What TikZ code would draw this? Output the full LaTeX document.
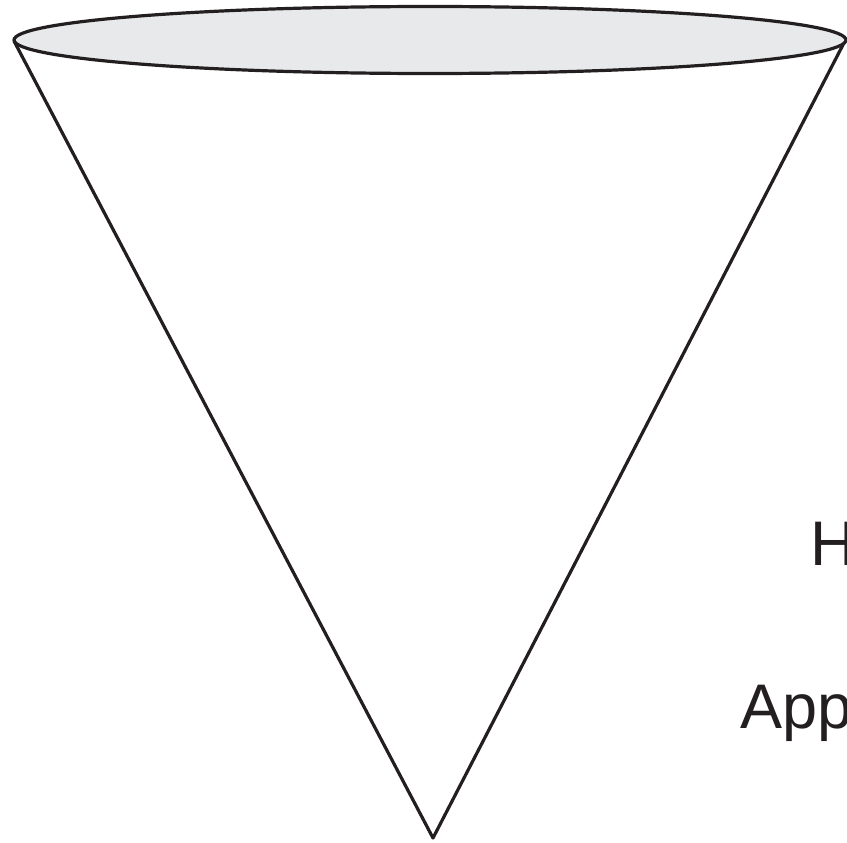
\documentclass[tikz,border=0pt]{standalone}
\usepackage{fontspec}
\setmainfont{Liberation Sans}
\definecolor{topfill}{HTML}{E8E9EA}
\definecolor{ink}{HTML}{231F20}
\begin{document}
\begin{tikzpicture}[x=1pt,y=-1pt,
  outline/.style={draw=ink, line width=3.2pt, line join=round},
  lbl/.style={anchor=base west, inner sep=0pt, font=\fontsize{63}{70}\selectfont, text=ink}]
\useasboundingbox (0,0) rectangle (847,843);
\clip (0,0) rectangle (847,843);
\coordinate (L) at (14,41);
\coordinate (R) at (846,39);
\coordinate (apex) at (433,838);
\draw[outline] (L) -- (apex) -- (R);
\draw[outline, fill=topfill] (430,40) ellipse [x radius=416, y radius=33.5];
\node[lbl] (h) at (810,565) {H};
\node[lbl] (app) at (740,728) {App};
\end{tikzpicture}
\end{document}
